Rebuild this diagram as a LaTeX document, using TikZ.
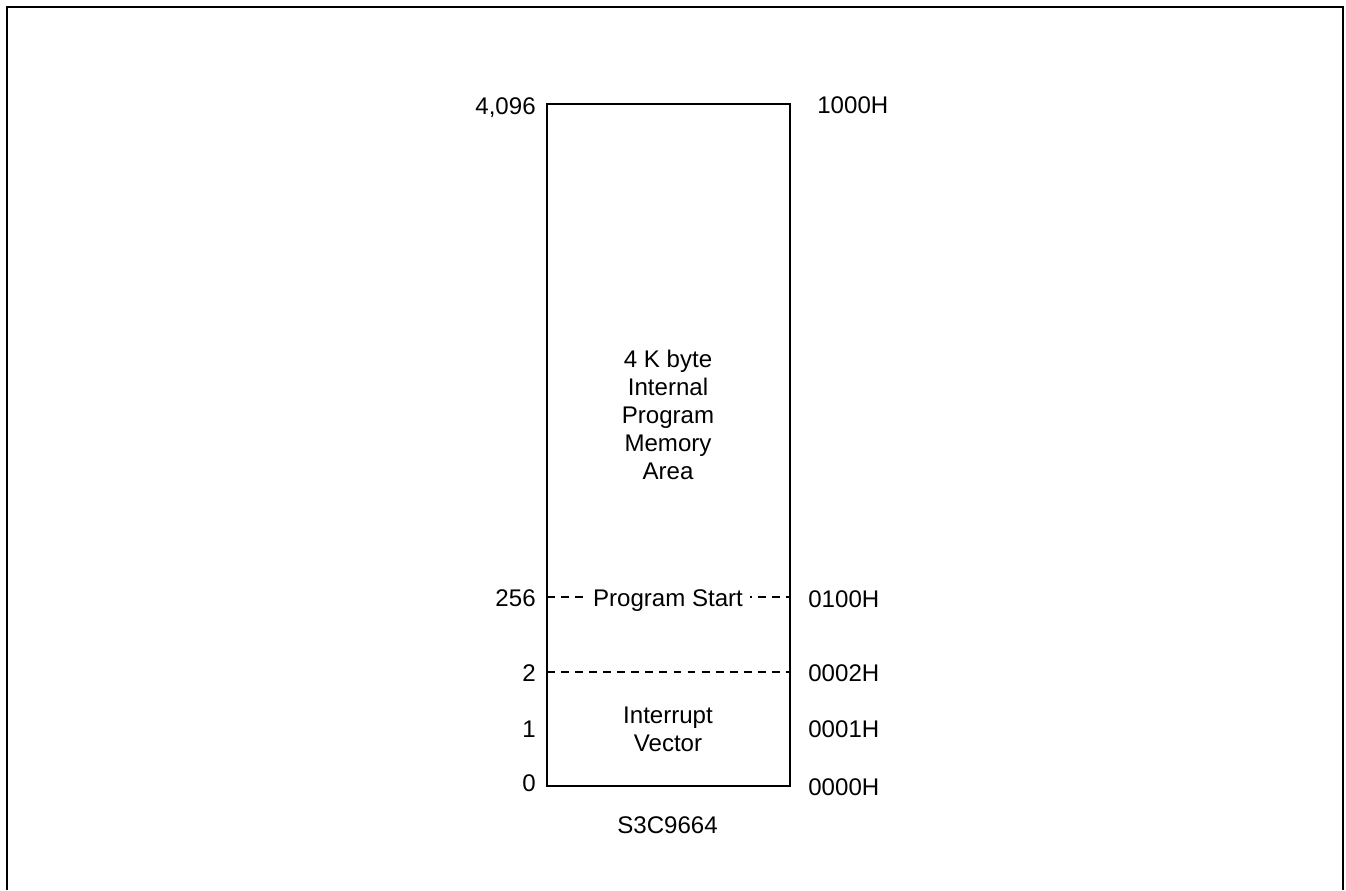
\documentclass[tikz,border=0pt]{standalone}
\usepackage{fontspec}
\setmainfont{Liberation Sans}
\usetikzlibrary{positioning}
\tikzset{
  txt/.style={font=\fontsize{13.7pt}{15.9pt}\selectfont,inner sep=0pt},
  memblock/.style={draw,line width=1pt,inner sep=0pt,
    minimum width=4.86cm,minimum height=13.64cm},
  bound/.style={line width=0.6pt,dash pattern=on 4.5pt off 3.5pt},
  declbl/.style={txt,anchor=east,text depth=0pt},
  hexlbl/.style={txt,anchor=west},
  area/.style={txt,align=center},
}

\begin{document}
\begin{tikzpicture}[x=0.02cm,y=-0.02cm]
  \useasboundingbox (0,0) rectangle (1346,890);
  % open frame
  \draw[line width=1.3pt] (7,890) -- (7,7) -- (1343,7) -- (1343,890);

  \node[memblock] (mem) at (668.5,445) {};
  \coordinate (s256) at (547,597);
  \coordinate (e256) at (790,597);
  \coordinate (s2) at (547,672);
  \coordinate (e2) at (790,672);
  \draw[bound] (s256) -- (e256);
  \draw[bound] (s2) -- (e2);
  \node[txt,fill=white,inner xsep=4pt,anchor=base] (start) at (668,606) {Program Start};

  \node[area] (prog) at (668,415) {4 K byte\\Internal\\Program\\Memory\\Area};
  \node[area] (intv) at (668,729) {Interrupt\\Vector};

  % decimal addresses
  \foreach \y/\t [count=\i] in {106/{4,096},598/256,673/2,729/1,783/0}
    \node[declbl] (dec\i) at (536,\y) {\t};
  % hex addresses
  \foreach \x/\y/\t [count=\i] in {817/105/1000H,808/599/0100H,808/673/0002H,808/729/0001H,808/787/0000H}
    \node[hexlbl] (hex\i) at (\x,\y) {\t};

  \node[txt] (chip) at (667.5,825) {S3C9664};
\end{tikzpicture}
\end{document}
